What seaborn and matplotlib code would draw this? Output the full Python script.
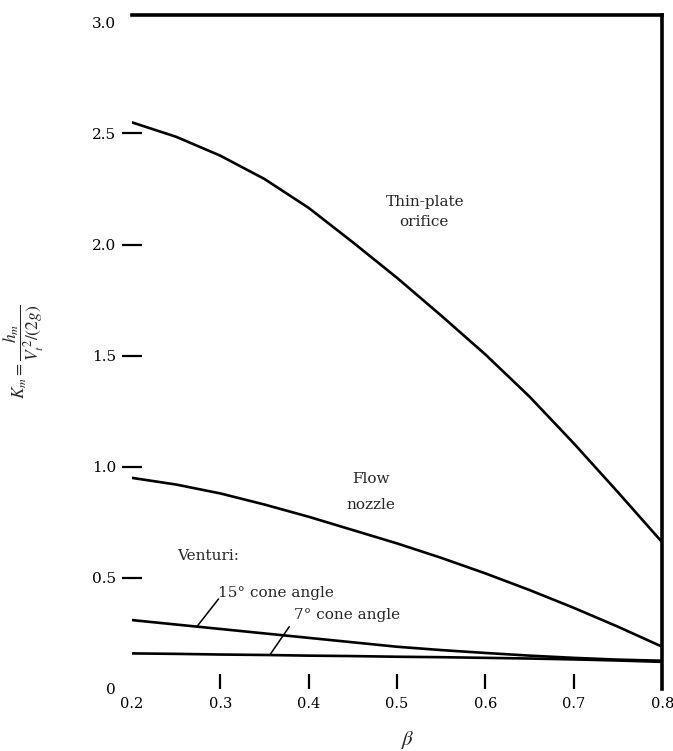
import matplotlib
matplotlib.use("Agg")
import matplotlib.pyplot as plt
import seaborn as sns
import pandas as pd
import numpy as np

# values
beta = [0.2, 0.25, 0.3, 0.35, 0.4, 0.45, 0.5, 0.55, 0.6, 0.65, 0.7, 0.75, 0.8]
thin_plate = [2.55, 2.485, 2.40, 2.295, 2.165, 2.01, 1.85, 1.68, 1.505, 1.315, 1.105, 0.885, 0.66]
flow_nozzle = [0.95, 0.92, 0.88, 0.83, 0.775, 0.715, 0.655, 0.59, 0.52, 0.445, 0.365, 0.28, 0.19]
venturi_15 = [0.31, 0.29, 0.27, 0.25, 0.23, 0.21, 0.19, 0.175, 0.162, 0.150, 0.140, 0.132, 0.127]
venturi_7 = [0.16, 0.158, 0.155, 0.153, 0.15, 0.148, 0.145, 0.143, 0.14, 0.137, 0.133, 0.128, 0.122]

x_ticks = [0.2, 0.3, 0.4, 0.5, 0.6, 0.7, 0.8]
x_labels = ["0.2", "0.3", "0.4", "0.5", "0.6", "0.7", "0.8"]
y_ticks = [0, 0.5, 1.0, 1.5, 2.0, 2.5, 3.0]
y_labels = ["0", "0.5", "1.0", "1.5", "2.0", "2.5", "3.0"]

sns.set_style("white")
plt.rcParams['font.family'] = ['DejaVu Serif']
plt.rcParams['mathtext.fontset'] = 'stix'

fig = plt.figure(figsize=(6.73, 7.51), dpi=100)
ax = fig.add_axes([0.196, 0.0826, 0.788, 0.898])

for series in [thin_plate, flow_nozzle, venturi_15, venturi_7]:
    sns.lineplot(x=beta, y=series, color="black", linewidth=1.9, ax=ax)

ax.set_xlim(0.2, 0.8)
ax.set_ylim(0, 3.035)

# frame: only top and right borders, drawn heavy like the scan
for side in ["left", "bottom"]:
    ax.spines[side].set_visible(False)
for side in ["top", "right"]:
    ax.spines[side].set_visible(True)
    ax.spines[side].set_linewidth(2.6)
    ax.spines[side].set_color("black")

ax.set_xticks(x_ticks)
ax.set_xticklabels(x_labels, fontsize=10.5)
ax.set_yticks(y_ticks)
ax.set_yticklabels(y_labels, fontsize=11)
ax.tick_params(axis="x", direction="in", length=11, width=1.6, pad=6,
               bottom=True, colors="black")
ax.tick_params(axis="y", direction="inout", length=15, width=1.6, pad=4,
               left=True, colors="black")
# no marks at the ends of the axes
xt = ax.xaxis.get_major_ticks()
xt[0].tick1line.set_visible(False)
xt[-1].tick1line.set_visible(False)
yt = ax.yaxis.get_major_ticks()
yt[0].tick1line.set_visible(False)
yt[-1].tick1line.set_visible(False)

ax.set_xlabel(r"$\beta$", fontsize=15)
ax.xaxis.set_label_coords(0.52, -0.06)
ax.set_ylabel(r"$K_m = \dfrac{h_m}{V_t^{\,2}/(2g)}$", fontsize=12.5)
ax.yaxis.set_label_coords(-0.162, 0.5)

# curve labels
lab = dict(fontsize=11, va="center")
ax.text(0.532, 2.19, "Thin-plate", ha="center", **lab)
ax.text(0.53, 2.10, "orifice", ha="center", **lab)
ax.text(0.47, 0.945, "Flow", ha="center", **lab)
ax.text(0.47, 0.83, "nozzle", ha="center", **lab)
ax.text(0.251, 0.60, "Venturi:", ha="left", **lab)
ax.text(0.297, 0.43, "15° cone angle", ha="left", **lab)
ax.text(0.383, 0.335, "7° cone angle", ha="left", **lab)

# leader lines from the venturi labels to their curves
ax.plot([0.298, 0.274], [0.405, 0.283], color="black", linewidth=1.1)
ax.plot([0.378, 0.356], [0.28, 0.153], color="black", linewidth=1.1)

fig.savefig("out.png", dpi=100)
